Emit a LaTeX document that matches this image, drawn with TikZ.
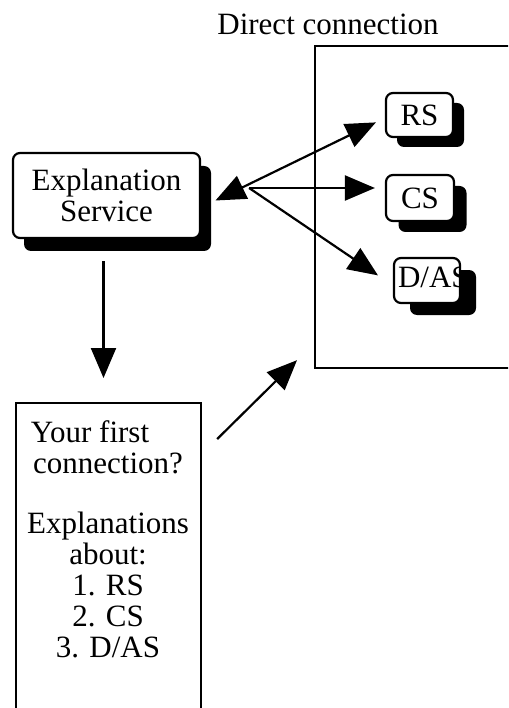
\documentclass[tikz,border=0pt]{standalone}
\usepackage{fontspec}
\setmainfont{Liberation Serif}
\usetikzlibrary{arrows.meta,shadows}

\tikzset{
  svcbox/.style 2 args={draw, fill=white, rounded corners=7pt, inner sep=0pt,
    general shadow={fill=black, rounded corners=7pt, shadow xshift=#1, shadow yshift=#2}},
  arr/.style={-{Triangle[length=30pt,width=25pt]}},
  dblarr/.style={{Triangle[length=30pt,width=25pt]}-{Triangle[length=30pt,width=25pt]}},
}

\begin{document}
\begin{tikzpicture}[x=1pt, y=-1pt, line width=2.2pt, font=\fontsize{31pt}{31pt}\selectfont]
\clip (0,0) rectangle (508,708);
% --- Left Side (explanation service and question box) ---
\node[svcbox={11pt}{-13pt}, minimum width=187pt, minimum height=85pt, align=center] (expl) at (106.5,195.5) {Explanation\\Service};
\node[draw, inner sep=0pt, minimum width=185pt, minimum height=340pt, anchor=north west] (ask) at (15,402) {};
\node[anchor=north, align=center, inner sep=0pt] (askText) at (108,420) {Your first\hspace*{36pt}\\connection?\\[29pt]Explanations\\about:\\1. RS\\2. CS\\3. D/AS};
% --- Right Side (direct connection) ---
\node[draw, inner sep=0pt, minimum width=240pt, minimum height=322pt, anchor=north west] (frame) at (314,45) {};
\node[anchor=base] (title) at (328,35) {Direct connection};
\node[svcbox={11pt}{-10pt}, minimum width=67pt, minimum height=44pt] (rs) at (419.5,115) {RS};
\node[svcbox={12.5pt}{-11pt}, minimum width=68pt, minimum height=46pt] (cs) at (420,198) {CS};
\node[svcbox={16pt}{-12pt}, minimum width=66pt, minimum height=45pt,
  path picture={\node[anchor=base west, inner sep=0pt] at ([xshift=3pt,yshift=-6.5pt]path picture bounding box.west) {D/AS};}] (das) at (427,280.5) {};
% --- links ---
\coordinate (hub) at ([xshift=48pt,yshift=7.5pt]expl.east);
\draw[dblarr, shorten <=16pt, shorten >=10pt] ([yshift=-12pt]expl.east) -- ([yshift=-3pt]rs.west);
\draw[arr, shorten >=10pt] (hub) -- ([yshift=10pt]cs.west);
\draw[arr, shorten >=18pt] (hub) -- ([yshift=-5pt]das.west);
\draw[arr, shorten <=22pt, shorten >=24pt] ([xshift=-3pt]expl.south) -- ([xshift=-3pt]expl.south |- ask.north);
\draw[arr] ([xshift=15pt,yshift=-37pt]ask.north east) -- ([xshift=-17pt,yshift=9pt]frame.south west);
\end{tikzpicture}
\end{document}
